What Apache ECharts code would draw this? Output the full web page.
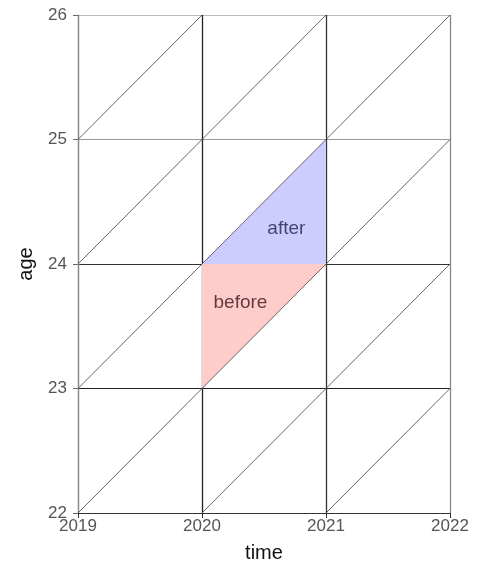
<!DOCTYPE html>
<html>
<head>
<meta charset="utf-8">
<script src="https://cdn.jsdelivr.net/npm/echarts@6/dist/echarts.min.js"></script>
<style>html,body{margin:0;padding:0;background:#fff;}#c{width:483px;height:572px;}</style>
</head>
<body>
<div id="c"></div>
<script>
const xTicks = [2019, 2020, 2021, 2022];
const yTicks = [22, 23, 24, 25, 26];
// Lexis diagonals (start, end) in data units
const diagonals = [
  [[2019, 25], [2020, 26]],
  [[2019, 24], [2021, 26]],
  [[2019, 23], [2022, 26]],
  [[2019, 22], [2022, 25]],
  [[2020, 22], [2022, 24]],
  [[2021, 22], [2022, 23]]
];
const afterTriangle = [[2020, 24], [2021, 25], [2021, 24]];
const beforeTriangle = [[2020, 23], [2020, 24], [2021, 24]];
const labelNames = ['after', 'before'];
const labelPositions = [[2020.68, 24.28], [2020.31, 23.69]];
const labelColors = ['#22224a', '#3a1515'];

const FONT = 'Liberation Sans, Arial, sans-serif';
const chart = echarts.init(document.getElementById('c'));

function polySeries(pts, color) {
  return {
    type: 'custom',
    coordinateSystem: 'cartesian2d',
    data: [0],
    silent: true,
    z: 1,
    renderItem: function (params, api) {
      return {
        type: 'polygon',
        shape: { points: pts.map(p => api.coord(p)) },
        style: { fill: color, stroke: 'none' }
      };
    }
  };
}

const series = [
  polySeries(afterTriangle, '#ccccff'),
  polySeries(beforeTriangle, '#ffcccc')
];
diagonals.forEach(d => {
  series.push({
    type: 'line',
    data: d,
    symbol: 'none',
    silent: true,
    z: 3,
    lineStyle: { color: '#555', width: 0.9 }
  });
});
series.push({
  type: 'scatter',
  symbolSize: 0,
  z: 5,
  data: labelNames.map((n, i) => ({
    name: n, value: labelPositions[i],
    label: { color: labelColors[i] }
  })),
  label: {
    show: true,
    position: 'inside',
    formatter: p => p.name,
    fontFamily: FONT,
    fontSize: 19
  }
});

chart.setOption({
  animation: false,
  grid: { left: 78, right: 33, top: 15, bottom: 59 },
  xAxis: {
    type: 'value',
    min: xTicks[0],
    max: xTicks[xTicks.length - 1],
    interval: 1,
    name: 'time',
    nameLocation: 'middle',
    nameGap: 30,
    nameTextStyle: { fontSize: 20, color: '#111', fontFamily: FONT },
    axisLine: { show: true, lineStyle: { color: '#333', width: 1.2 } },
    axisTick: { show: true, length: 5, lineStyle: { color: '#333' } },
    axisLabel: {
      fontSize: 17, color: '#555', margin: 5,
      fontFamily: FONT,
      formatter: v => String(v)
    },
    splitLine: {
      show: true,
      showMinLine: true,
      showMaxLine: true,
      lineStyle: { color: ['#888', '#222', '#333', '#888'], width: 1.3 }
    }
  },
  yAxis: {
    type: 'value',
    min: yTicks[0],
    max: yTicks[yTicks.length - 1],
    interval: 1,
    name: 'age',
    nameLocation: 'middle',
    nameGap: 42,
    nameRotate: 90,
    nameTextStyle: { fontSize: 20, color: '#111', fontFamily: FONT },
    axisLine: { show: true, lineStyle: { color: '#888', width: 1.2 } },
    axisTick: { show: true, length: 5, lineStyle: { color: '#666' } },
    axisLabel: {
      fontSize: 17, color: '#555', margin: 11,
      fontFamily: FONT
    },
    splitLine: {
      show: true,
      showMinLine: true,
      showMaxLine: true,
      lineStyle: { color: ['#333', '#222', '#333', '#999', '#bbb'], width: 1.2 }
    }
  },
  series: series
});
</script>
</body>
</html>
